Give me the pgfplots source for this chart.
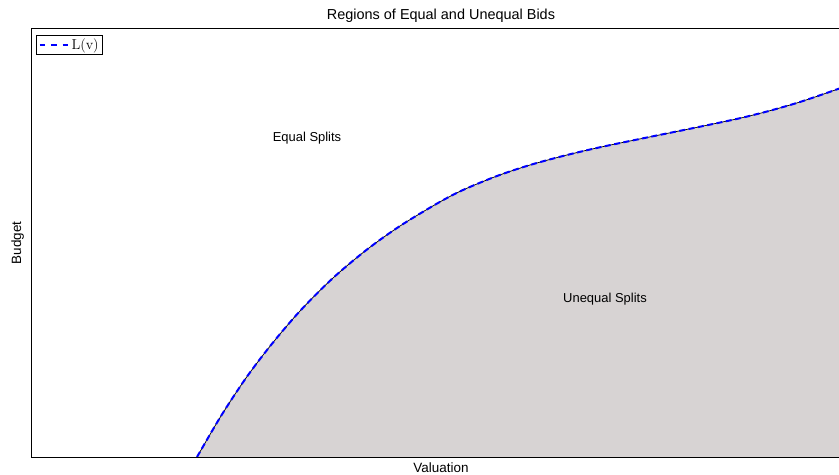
\documentclass[border=0pt]{standalone}
\usepackage{pgfplots}
\pgfplotsset{compat=1.18}
\usepackage[no-math]{fontspec}
\setmainfont{Liberation Sans}
\definecolor{fillgray}{RGB}{215,211,211}
\pgfplotstableread{
x y
166 0
190 41
215 79
240 112
269 146
302 179
336 207.5
369 231
407 254
432 267
466 281
499 292
532 301
559 307.5
582 312.5
616 319.5
649 326.2
682 333
709 338.8
736 345.5
769 355
807 368
820 373
}\curvedata
\begin{document}
\begin{tikzpicture}
\begin{axis}[
  scale only axis,
  width=820bp, height=428bp,
  at={(0,0)}, anchor=origin,
  xmin=0, xmax=820, ymin=0, ymax=428,
  xtick=\empty, ytick=\empty,
  axis line style={line width=1bp, black},
  legend style={at={(0,1)}, anchor=north west, xshift=5bp, yshift=-6bp,
    draw=black, line width=0.8bp, inner xsep=2bp, inner ysep=1.5bp,
    font=\fontsize{15.5}{17}\selectfont, cells={anchor=west}},
  legend image code/.code={\draw[#1, line width=2.2bp, dash pattern=on 5.5bp off 6bp] (0bp,0bp) -- (29bp,0bp);},
]
\addplot[fill=fillgray, draw=none, smooth, forget plot] table {\curvedata} \closedcycle;
\addplot[black, line width=0.7bp, smooth, forget plot] table {\curvedata};
\addplot[blue, line width=2bp, dash pattern=on 6bp off 3.5bp, smooth] table {\curvedata};
\addlegendentry{$\mathrm{L(v)}$}
\node[font=\fontsize{13}{15}\selectfont] at (axis cs:276,319) {Equal Splits};
\node[font=\fontsize{13}{15}\selectfont] at (axis cs:574,158) {Unequal Splits};
\coordinate (T) at (rel axis cs:0.5,1);
\coordinate (B) at (rel axis cs:0.5,0);
\coordinate (L) at (rel axis cs:0,0.5);
\end{axis}
\node[anchor=base, font=\fontsize{14.5}{16}\selectfont] at ([yshift=9bp]T) {Regions of Equal and Unequal Bids};
\node[anchor=base, font=\fontsize{13.5}{15}\selectfont] at ([yshift=-15bp]B) {Valuation};
\node[anchor=base, rotate=90, font=\fontsize{13.5}{15}\selectfont] at ([xshift=-10bp]L) {Budget};
\pgfresetboundingbox
\path[use as bounding box] (-31bp,-18bp) rectangle (808bp,457bp);
\end{tikzpicture}
\end{document}
